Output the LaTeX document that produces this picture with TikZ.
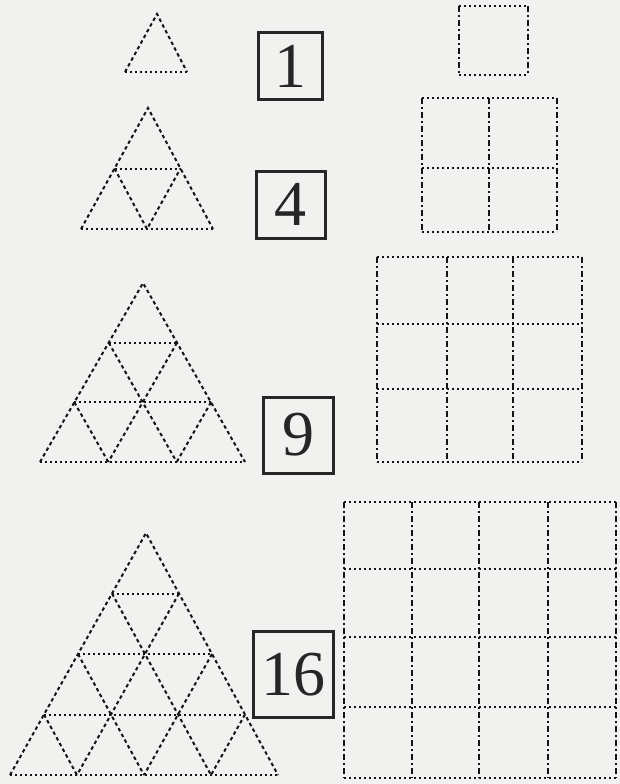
\documentclass[tikz,border=0pt]{standalone}
\usepackage{fontspec}
\setmainfont{Liberation Serif}
\usepackage{xcolor}
\usepackage{tikz}
\definecolor{paper}{HTML}{F1F1EF}
\definecolor{ink}{HTML}{141414}
\definecolor{boxink}{HTML}{262626}
\tikzset{
  hdots/.style={ink,line width=2pt,dash pattern=on 2pt off 3pt},
  vdash/.style={ink,line width=2pt,dash pattern=on 6pt off 3pt on 2pt off 3pt},
  sdash/.style={ink,line width=2pt,dash pattern=on 3.5pt off 3pt},
  numbox/.style={draw=boxink,line width=3pt,inner sep=0pt,text=boxink,font=\fontsize{64}{64}\selectfont}
}

\begin{document}
\begin{tikzpicture}[x=1pt,y=-1pt]
  \fill[paper] (0,0) rectangle (620,784);
  \begin{scope}
    \draw[sdash] (125,72)--(157,14)--(187,72);
    \draw[hdots] (125,72)--(187,72);
    \node[numbox,minimum width=64pt,minimum height=66pt] (box1) at (290,66) {1};
    \draw[vdash] (459,6)--(459,75) (528,6)--(528,75);
    \draw[hdots] (459,6)--(528,6) (459,75)--(528,75);
  \end{scope}
  \begin{scope}
    \draw[sdash] (81,229)--(148,108)--(213,229);
    \draw[sdash] (114.5,168.5)--(147,229)--(180.5,168.5);
    \draw[hdots] (114.5,168.5)--(180.5,168.5);
    \draw[hdots] (81,229)--(213,229);
    \node[numbox,minimum width=69pt,minimum height=67pt] (box4) at (290.5,204.5) {4};
    \draw[vdash] (422,98)--(422,232) (489,98)--(489,232) (557,98)--(557,232);
    \draw[hdots] (422,98)--(557,98) (422,168)--(557,168) (422,232)--(557,232);
  \end{scope}
  \begin{scope}
    \draw[sdash] (40,462)--(143,283)--(245,462);
    \draw[sdash] (108.7,342.7)--(176.7,462) (74.3,402.3)--(108.3,462);
    \draw[sdash] (177,342.7)--(108.3,462) (211,402.3)--(176.7,462);
    \draw[hdots] (108.7,342.7)--(177,342.7) (74.3,402.3)--(211,402.3);
    \draw[hdots] (40,462)--(245,462);
    \node[numbox,minimum width=70pt,minimum height=76pt] (box9) at (298,435) {9};
    \draw[vdash] (377,257)--(377,462) (447,257)--(447,462) (513,257)--(513,462) (582,257)--(582,462);
    \draw[hdots] (377,257)--(582,257) (377,324)--(582,324) (377,389)--(582,389) (377,462)--(582,462);
  \end{scope}
  \begin{scope}
    \draw[sdash] (10,775)--(146,533)--(278,775);
    \draw[sdash] (112,593.5)--(211,775) (78,654)--(144,775) (44,714.5)--(77,775);
    \draw[sdash] (179,593.5)--(77,775) (212,654)--(144,775) (245,714.5)--(211,775);
    \draw[hdots] (112,593.5)--(179,593.5) (78,654)--(212,654) (44,714.5)--(245,714.5);
    \draw[hdots] (10,775)--(278,775);
    \node[numbox,minimum width=80pt,minimum height=86pt] (box16) at (293,674.5) {16};
    \draw[vdash] (344,502)--(344,778) (412,502)--(412,778) (479,502)--(479,778) (548,502)--(548,778) (616,502)--(616,778);
    \draw[hdots] (344,502)--(616,502) (344,569)--(616,569) (344,637)--(616,637) (344,707)--(616,707) (344,778)--(616,778);
  \end{scope}
\end{tikzpicture}
\end{document}
